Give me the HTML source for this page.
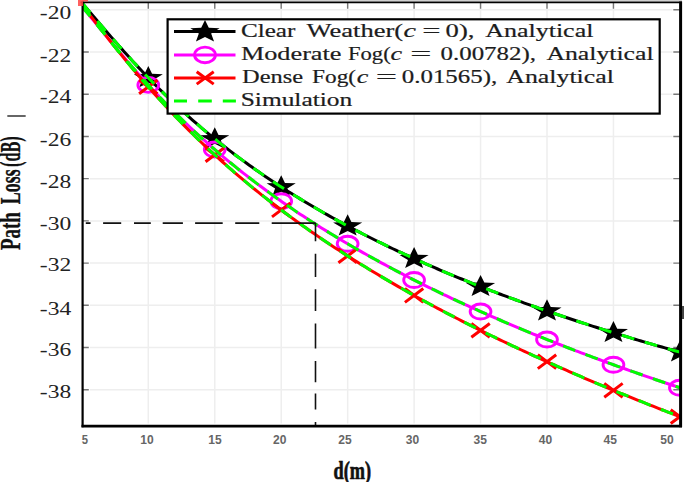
<!DOCTYPE html>
<html><head><meta charset="utf-8"><style>
html,body{margin:0;padding:0;background:#fff;width:685px;height:482px;overflow:hidden}
svg{display:block}
</style></head><body>
<svg width="685" height="482" viewBox="0 0 685 482">
<defs><clipPath id="pc"><rect x="82.5" y="0" width="598" height="482"/></clipPath></defs>
<path d="M148.30,3.2 V423.5 M214.75,3.2 V423.5 M281.20,3.2 V423.5 M347.65,3.2 V423.5 M414.10,3.2 V423.5 M480.55,3.2 V423.5 M547.00,3.2 V423.5 M613.45,3.2 V423.5 M90.0,9.78 H672.5 M90.0,52.00 H672.5 M90.0,94.22 H672.5 M90.0,136.44 H672.5 M90.0,178.66 H672.5 M90.0,220.88 H672.5 M90.0,263.10 H672.5 M90.0,305.32 H672.5 M90.0,347.54 H672.5 M90.0,389.76 H672.5" stroke="#eeeeee" stroke-width="1.5" fill="none"/><path d="M148.30,2.2 V8.8 M214.75,2.2 V8.8 M281.20,2.2 V8.8 M347.65,2.2 V8.8 M414.10,2.2 V8.8 M480.55,2.2 V8.8 M547.00,2.2 V8.8 M613.45,2.2 V8.8 M82.0,9.78 H88.8 M680.5,9.78 H673.3 M82.0,52.00 H88.8 M680.5,52.00 H673.3 M82.0,94.22 H88.8 M680.5,94.22 H673.3 M82.0,136.44 H88.8 M680.5,136.44 H673.3 M82.0,178.66 H88.8 M680.5,178.66 H673.3 M82.0,220.88 H88.8 M680.5,220.88 H673.3 M82.0,263.10 H88.8 M680.5,263.10 H673.3 M82.0,305.32 H88.8 M680.5,305.32 H673.3 M82.0,347.54 H88.8 M680.5,347.54 H673.3 M82.0,389.76 H88.8 M680.5,389.76 H673.3" stroke="#777" stroke-width="1.4" fill="none"/><rect x="82" y="0" width="600" height="1.4" fill="#d0d0d0"/><g clip-path="url(#pc)"><path d="M81.85,2.76 L84.84,6.22 L87.83,9.70 L90.82,13.19 L93.81,16.69 L96.80,20.20 L99.79,23.70 L102.78,27.20 L105.77,30.68 L108.76,34.16 L111.75,37.61 L114.74,41.05 L117.73,44.46 L120.72,47.85 L123.71,51.22 L126.70,54.55 L129.69,57.86 L132.68,61.14 L135.67,64.39 L138.66,67.61 L141.66,70.80 L144.65,73.95 L147.64,77.07 L150.63,80.16 L153.62,83.22 L156.61,86.24 L159.60,89.23 L162.59,92.19 L165.58,95.12 L168.57,98.01 L171.56,100.88 L174.55,103.71 L177.54,106.50 L180.53,109.27 L183.52,112.01 L186.51,114.71 L189.50,117.39 L192.49,120.04 L195.48,122.65 L198.47,125.24 L201.46,127.80 L204.45,130.33 L207.44,132.84 L210.43,135.31 L213.42,137.76 L216.41,140.18 L219.40,142.58 L222.39,144.95 L225.38,147.30 L228.37,149.62 L231.36,151.92 L234.35,154.19 L237.34,156.44 L240.33,158.66 L243.32,160.87 L246.31,163.05 L249.30,165.21 L252.29,167.34 L255.28,169.46 L258.27,171.55 L261.26,173.63 L264.26,175.68 L267.25,177.72 L270.24,179.73 L273.23,181.72 L276.22,183.70 L279.21,185.66 L282.20,187.60 L285.19,189.52 L288.18,191.42 L291.17,193.31 L294.16,195.17 L297.15,197.03 L300.14,198.86 L303.13,200.68 L306.12,202.48 L309.11,204.27 L312.10,206.04 L315.09,207.79 L318.08,209.53 L321.07,211.26 L324.06,212.97 L327.05,214.67 L330.04,216.35 L333.03,218.02 L336.02,219.67 L339.01,221.31 L342.00,222.94 L344.99,224.56 L347.98,226.16 L350.97,227.75 L353.96,229.32 L356.95,230.89 L359.94,232.44 L362.93,233.98 L365.92,235.50 L368.91,237.02 L371.90,238.52 L374.89,240.02 L377.88,241.50 L380.88,242.97 L383.87,244.43 L386.86,245.88 L389.85,247.32 L392.84,248.74 L395.83,250.16 L398.82,251.57 L401.81,252.97 L404.80,254.36 L407.79,255.73 L410.78,257.10 L413.77,258.46 L416.76,259.81 L419.75,261.15 L422.74,262.48 L425.73,263.80 L428.72,265.12 L431.71,266.42 L434.70,267.72 L437.69,269.00 L440.68,270.28 L443.67,271.55 L446.66,272.81 L449.65,274.07 L452.64,275.31 L455.63,276.55 L458.62,277.78 L461.61,279.00 L464.60,280.22 L467.59,281.43 L470.58,282.63 L473.57,283.82 L476.56,285.00 L479.55,286.18 L482.54,287.35 L485.53,288.52 L488.52,289.67 L491.51,290.82 L494.50,291.96 L497.49,293.10 L500.49,294.23 L503.48,295.35 L506.47,296.47 L509.46,297.58 L512.45,298.68 L515.44,299.78 L518.43,300.87 L521.42,301.96 L524.41,303.04 L527.40,304.11 L530.39,305.18 L533.38,306.24 L536.37,307.29 L539.36,308.34 L542.35,309.39 L545.34,310.42 L548.33,311.46 L551.32,312.48 L554.31,313.51 L557.30,314.52 L560.29,315.53 L563.28,316.54 L566.27,317.54 L569.26,318.53 L572.25,319.52 L575.24,320.51 L578.23,321.49 L581.22,322.46 L584.21,323.43 L587.20,324.40 L590.19,325.36 L593.18,326.31 L596.17,327.26 L599.16,328.21 L602.15,329.15 L605.14,330.09 L608.13,331.02 L611.12,331.95 L614.11,332.87 L617.10,333.79 L620.10,334.70 L623.09,335.61 L626.08,336.52 L629.07,337.42 L632.06,338.32 L635.05,339.21 L638.04,340.10 L641.03,340.98 L644.02,341.86 L647.01,342.74 L650.00,343.61 L652.99,344.48 L655.98,345.35 L658.97,346.21 L661.96,347.06 L664.95,347.92 L667.94,348.77 L670.93,349.61 L673.92,350.45 L676.91,351.29 L679.90,352.13" stroke="#000" stroke-width="3" fill="none"/><polygon points="148.30,66.10 152.08,73.80 162.85,74.16 154.41,79.27 157.29,87.19 148.30,82.66 139.31,87.19 142.19,79.27 133.75,74.16 144.52,73.80" fill="#000"/><polygon points="214.75,127.18 218.53,134.88 229.30,135.24 220.86,140.35 223.74,148.27 214.75,143.74 205.76,148.27 208.64,140.35 200.20,135.24 210.97,134.88" fill="#000"/><polygon points="281.20,175.29 284.98,182.99 295.75,183.35 287.31,188.47 290.19,196.39 281.20,191.85 272.21,196.39 275.09,188.47 266.65,183.35 277.42,182.99" fill="#000"/><polygon points="347.65,214.32 351.43,222.02 362.20,222.38 353.76,227.49 356.64,235.41 347.65,230.88 338.66,235.41 341.54,227.49 333.10,222.38 343.87,222.02" fill="#000"/><polygon points="414.10,246.95 417.88,254.65 428.65,255.01 420.21,260.12 423.09,268.04 414.10,263.51 405.11,268.04 407.99,260.12 399.55,255.01 410.32,254.65" fill="#000"/><polygon points="480.55,274.91 484.33,282.61 495.10,282.97 486.66,288.09 489.54,296.01 480.55,291.47 471.56,296.01 474.44,288.09 466.00,282.97 476.77,282.61" fill="#000"/><polygon points="547.00,299.34 550.78,307.04 561.55,307.40 553.11,312.51 555.99,320.43 547.00,315.90 538.01,320.43 540.89,312.51 532.45,307.40 543.22,307.04" fill="#000"/><polygon points="613.45,321.01 617.23,328.70 628.00,329.06 619.56,334.18 622.44,342.10 613.45,337.56 604.46,342.10 607.34,334.18 598.90,329.06 609.67,328.70" fill="#000"/><polygon points="679.90,340.47 683.68,348.16 694.45,348.52 686.01,353.64 688.89,361.56 679.90,357.02 670.91,361.56 673.79,353.64 665.35,348.52 676.12,348.16" fill="#000"/><path d="M81.85,6.32 L84.84,9.94 L87.83,13.58 L90.82,17.24 L93.81,20.90 L96.80,24.56 L99.79,28.23 L102.78,31.88 L105.77,35.53 L108.76,39.16 L111.75,42.78 L114.74,46.38 L117.73,49.95 L120.72,53.50 L123.71,57.03 L126.70,60.52 L129.69,63.99 L132.68,67.43 L135.67,70.84 L138.66,74.22 L141.66,77.57 L144.65,80.88 L147.64,84.17 L150.63,87.42 L153.62,90.63 L156.61,93.82 L159.60,96.97 L162.59,100.09 L165.58,103.18 L168.57,106.23 L171.56,109.25 L174.55,112.24 L177.54,115.20 L180.53,118.13 L183.52,121.03 L186.51,123.89 L189.50,126.73 L192.49,129.54 L195.48,132.31 L198.47,135.06 L201.46,137.78 L204.45,140.47 L207.44,143.14 L210.43,145.77 L213.42,148.38 L216.41,150.97 L219.40,153.52 L222.39,156.05 L225.38,158.56 L228.37,161.04 L231.36,163.50 L234.35,165.93 L237.34,168.34 L240.33,170.73 L243.32,173.09 L246.31,175.43 L249.30,177.75 L252.29,180.05 L255.28,182.33 L258.27,184.58 L261.26,186.82 L264.26,189.03 L267.25,191.22 L270.24,193.40 L273.23,195.55 L276.22,197.69 L279.21,199.81 L282.20,201.91 L285.19,203.99 L288.18,206.05 L291.17,208.10 L294.16,210.13 L297.15,212.14 L300.14,214.13 L303.13,216.11 L306.12,218.08 L309.11,220.02 L312.10,221.95 L315.09,223.87 L318.08,225.77 L321.07,227.66 L324.06,229.53 L327.05,231.38 L330.04,233.23 L333.03,235.06 L336.02,236.87 L339.01,238.67 L342.00,240.46 L344.99,242.23 L347.98,244.00 L350.97,245.75 L353.96,247.48 L356.95,249.21 L359.94,250.92 L362.93,252.62 L365.92,254.31 L368.91,255.98 L371.90,257.65 L374.89,259.30 L377.88,260.94 L380.88,262.57 L383.87,264.19 L386.86,265.80 L389.85,267.40 L392.84,268.99 L395.83,270.57 L398.82,272.14 L401.81,273.70 L404.80,275.24 L407.79,276.78 L410.78,278.31 L413.77,279.83 L416.76,281.34 L419.75,282.84 L422.74,284.33 L425.73,285.81 L428.72,287.29 L431.71,288.75 L434.70,290.21 L437.69,291.66 L440.68,293.09 L443.67,294.53 L446.66,295.95 L449.65,297.36 L452.64,298.77 L455.63,300.17 L458.62,301.56 L461.61,302.94 L464.60,304.31 L467.59,305.68 L470.58,307.04 L473.57,308.40 L476.56,309.74 L479.55,311.08 L482.54,312.41 L485.53,313.73 L488.52,315.05 L491.51,316.36 L494.50,317.66 L497.49,318.96 L500.49,320.25 L503.48,321.53 L506.47,322.81 L509.46,324.08 L512.45,325.35 L515.44,326.60 L518.43,327.85 L521.42,329.10 L524.41,330.34 L527.40,331.57 L530.39,332.80 L533.38,334.02 L536.37,335.24 L539.36,336.45 L542.35,337.65 L545.34,338.85 L548.33,340.04 L551.32,341.23 L554.31,342.41 L557.30,343.59 L560.29,344.76 L563.28,345.93 L566.27,347.09 L569.26,348.24 L572.25,349.39 L575.24,350.54 L578.23,351.68 L581.22,352.81 L584.21,353.94 L587.20,355.07 L590.19,356.19 L593.18,357.31 L596.17,358.42 L599.16,359.52 L602.15,360.63 L605.14,361.72 L608.13,362.81 L611.12,363.90 L614.11,364.99 L617.10,366.07 L620.10,367.14 L623.09,368.21 L626.08,369.28 L629.07,370.34 L632.06,371.40 L635.05,372.45 L638.04,373.50 L641.03,374.54 L644.02,375.58 L647.01,376.62 L650.00,377.65 L652.99,378.68 L655.98,379.71 L658.97,380.73 L661.96,381.75 L664.95,382.76 L667.94,383.77 L670.93,384.77 L673.92,385.78 L676.91,386.78 L679.90,387.77" stroke="#f0f" stroke-width="3" fill="none"/><ellipse cx="148.30" cy="84.89" rx="10.4" ry="7.5" fill="none" stroke="#f0f" stroke-width="2.9"/><ellipse cx="214.75" cy="149.53" rx="10.4" ry="7.5" fill="none" stroke="#f0f" stroke-width="2.9"/><ellipse cx="281.20" cy="201.21" rx="10.4" ry="7.5" fill="none" stroke="#f0f" stroke-width="2.9"/><ellipse cx="347.65" cy="243.80" rx="10.4" ry="7.5" fill="none" stroke="#f0f" stroke-width="2.9"/><ellipse cx="414.10" cy="280.00" rx="10.4" ry="7.5" fill="none" stroke="#f0f" stroke-width="2.9"/><ellipse cx="480.55" cy="311.52" rx="10.4" ry="7.5" fill="none" stroke="#f0f" stroke-width="2.9"/><ellipse cx="547.00" cy="339.51" rx="10.4" ry="7.5" fill="none" stroke="#f0f" stroke-width="2.9"/><ellipse cx="613.45" cy="364.75" rx="10.4" ry="7.5" fill="none" stroke="#f0f" stroke-width="2.9"/><ellipse cx="679.90" cy="387.77" rx="10.4" ry="7.5" fill="none" stroke="#f0f" stroke-width="2.9"/><path d="M81.85,4.99 L84.84,8.76 L87.83,12.55 L90.82,16.36 L93.81,20.17 L96.80,23.99 L99.79,27.81 L102.78,31.61 L105.77,35.41 L108.76,39.20 L111.75,42.96 L114.74,46.71 L117.73,50.44 L120.72,54.14 L123.71,57.81 L126.70,61.46 L129.69,65.08 L132.68,68.67 L135.67,72.24 L138.66,75.76 L141.66,79.26 L144.65,82.73 L147.64,86.16 L150.63,89.56 L153.62,92.93 L156.61,96.27 L159.60,99.57 L162.59,102.84 L165.58,106.08 L168.57,109.28 L171.56,112.46 L174.55,115.60 L177.54,118.71 L180.53,121.79 L183.52,124.84 L186.51,127.85 L189.50,130.84 L192.49,133.80 L195.48,136.73 L198.47,139.63 L201.46,142.50 L204.45,145.34 L207.44,148.16 L210.43,150.94 L213.42,153.71 L216.41,156.44 L219.40,159.15 L222.39,161.83 L225.38,164.49 L228.37,167.12 L231.36,169.73 L234.35,172.31 L237.34,174.87 L240.33,177.41 L243.32,179.93 L246.31,182.42 L249.30,184.89 L252.29,187.34 L255.28,189.76 L258.27,192.17 L261.26,194.56 L264.26,196.92 L267.25,199.27 L270.24,201.59 L273.23,203.90 L276.22,206.19 L279.21,208.46 L282.20,210.71 L285.19,212.94 L288.18,215.15 L291.17,217.35 L294.16,219.53 L297.15,221.69 L300.14,223.84 L303.13,225.97 L306.12,228.08 L309.11,230.18 L312.10,232.26 L315.09,234.33 L318.08,236.38 L321.07,238.42 L324.06,240.44 L327.05,242.45 L330.04,244.44 L333.03,246.42 L336.02,248.39 L339.01,250.34 L342.00,252.28 L344.99,254.21 L347.98,256.12 L350.97,258.02 L353.96,259.91 L356.95,261.78 L359.94,263.65 L362.93,265.50 L365.92,267.34 L368.91,269.16 L371.90,270.98 L374.89,272.78 L377.88,274.58 L380.88,276.36 L383.87,278.13 L386.86,279.89 L389.85,281.64 L392.84,283.38 L395.83,285.11 L398.82,286.83 L401.81,288.54 L404.80,290.24 L407.79,291.93 L410.78,293.61 L413.77,295.28 L416.76,296.94 L419.75,298.59 L422.74,300.23 L425.73,301.87 L428.72,303.49 L431.71,305.11 L434.70,306.71 L437.69,308.31 L440.68,309.90 L443.67,311.49 L446.66,313.06 L449.65,314.62 L452.64,316.18 L455.63,317.73 L458.62,319.27 L461.61,320.81 L464.60,322.33 L467.59,323.85 L470.58,325.36 L473.57,326.87 L476.56,328.36 L479.55,329.85 L482.54,331.33 L485.53,332.81 L488.52,334.28 L491.51,335.74 L494.50,337.19 L497.49,338.64 L500.49,340.08 L503.48,341.52 L506.47,342.94 L509.46,344.37 L512.45,345.78 L515.44,347.19 L518.43,348.59 L521.42,349.99 L524.41,351.38 L527.40,352.76 L530.39,354.14 L533.38,355.52 L536.37,356.88 L539.36,358.24 L542.35,359.60 L545.34,360.95 L548.33,362.29 L551.32,363.63 L554.31,364.96 L557.30,366.29 L560.29,367.61 L563.28,368.93 L566.27,370.24 L569.26,371.55 L572.25,372.85 L575.24,374.15 L578.23,375.44 L581.22,376.73 L584.21,378.01 L587.20,379.28 L590.19,380.56 L593.18,381.82 L596.17,383.08 L599.16,384.34 L602.15,385.60 L605.14,386.84 L608.13,388.09 L611.12,389.33 L614.11,390.56 L617.10,391.79 L620.10,393.02 L623.09,394.24 L626.08,395.46 L629.07,396.67 L632.06,397.88 L635.05,399.08 L638.04,400.28 L641.03,401.48 L644.02,402.67 L647.01,403.86 L650.00,405.04 L652.99,406.22 L655.98,407.40 L658.97,408.57 L661.96,409.74 L664.95,410.90 L667.94,412.06 L670.93,413.22 L673.92,414.37 L676.91,415.52 L679.90,416.67" stroke="#f00" stroke-width="3" fill="none"/><path d="M139.10,80.02 L157.50,93.82 M139.10,93.82 L157.50,80.02" stroke="#f00" stroke-width="3" fill="none"/><path d="M205.55,148.02 L223.95,161.82 M205.55,161.82 L223.95,148.02" stroke="#f00" stroke-width="3" fill="none"/><path d="M272.00,203.06 L290.40,216.86 M272.00,216.86 L290.40,203.06" stroke="#f00" stroke-width="3" fill="none"/><path d="M338.45,249.01 L356.85,262.81 M338.45,262.81 L356.85,249.01" stroke="#f00" stroke-width="3" fill="none"/><path d="M404.90,288.56 L423.30,302.36 M404.90,302.36 L423.30,288.56" stroke="#f00" stroke-width="3" fill="none"/><path d="M471.35,323.45 L489.75,337.25 M471.35,337.25 L489.75,323.45" stroke="#f00" stroke-width="3" fill="none"/><path d="M537.80,354.80 L556.20,368.60 M537.80,368.60 L556.20,354.80" stroke="#f00" stroke-width="3" fill="none"/><path d="M604.25,383.39 L622.65,397.19 M604.25,397.19 L622.65,383.39" stroke="#f00" stroke-width="3" fill="none"/><path d="M670.70,409.77 L689.10,423.57 M670.70,423.57 L689.10,409.77" stroke="#f00" stroke-width="3" fill="none"/><path d="M81.85,2.76 L84.84,6.22 L87.83,9.70 L90.82,13.19 L93.81,16.69 L96.80,20.20 L99.79,23.70 L102.78,27.20 L105.77,30.68 L108.76,34.16 L111.75,37.61 L114.74,41.05 L117.73,44.46 L120.72,47.85 L123.71,51.22 L126.70,54.55 L129.69,57.86 L132.68,61.14 L135.67,64.39 L138.66,67.61 L141.66,70.80 L144.65,73.95 L147.64,77.07 L150.63,80.16 L153.62,83.22 L156.61,86.24 L159.60,89.23 L162.59,92.19 L165.58,95.12 L168.57,98.01 L171.56,100.88 L174.55,103.71 L177.54,106.50 L180.53,109.27 L183.52,112.01 L186.51,114.71 L189.50,117.39 L192.49,120.04 L195.48,122.65 L198.47,125.24 L201.46,127.80 L204.45,130.33 L207.44,132.84 L210.43,135.31 L213.42,137.76 L216.41,140.18 L219.40,142.58 L222.39,144.95 L225.38,147.30 L228.37,149.62 L231.36,151.92 L234.35,154.19 L237.34,156.44 L240.33,158.66 L243.32,160.87 L246.31,163.05 L249.30,165.21 L252.29,167.34 L255.28,169.46 L258.27,171.55 L261.26,173.63 L264.26,175.68 L267.25,177.72 L270.24,179.73 L273.23,181.72 L276.22,183.70 L279.21,185.66 L282.20,187.60 L285.19,189.52 L288.18,191.42 L291.17,193.31 L294.16,195.17 L297.15,197.03 L300.14,198.86 L303.13,200.68 L306.12,202.48 L309.11,204.27 L312.10,206.04 L315.09,207.79 L318.08,209.53 L321.07,211.26 L324.06,212.97 L327.05,214.67 L330.04,216.35 L333.03,218.02 L336.02,219.67 L339.01,221.31 L342.00,222.94 L344.99,224.56 L347.98,226.16 L350.97,227.75 L353.96,229.32 L356.95,230.89 L359.94,232.44 L362.93,233.98 L365.92,235.50 L368.91,237.02 L371.90,238.52 L374.89,240.02 L377.88,241.50 L380.88,242.97 L383.87,244.43 L386.86,245.88 L389.85,247.32 L392.84,248.74 L395.83,250.16 L398.82,251.57 L401.81,252.97 L404.80,254.36 L407.79,255.73 L410.78,257.10 L413.77,258.46 L416.76,259.81 L419.75,261.15 L422.74,262.48 L425.73,263.80 L428.72,265.12 L431.71,266.42 L434.70,267.72 L437.69,269.00 L440.68,270.28 L443.67,271.55 L446.66,272.81 L449.65,274.07 L452.64,275.31 L455.63,276.55 L458.62,277.78 L461.61,279.00 L464.60,280.22 L467.59,281.43 L470.58,282.63 L473.57,283.82 L476.56,285.00 L479.55,286.18 L482.54,287.35 L485.53,288.52 L488.52,289.67 L491.51,290.82 L494.50,291.96 L497.49,293.10 L500.49,294.23 L503.48,295.35 L506.47,296.47 L509.46,297.58 L512.45,298.68 L515.44,299.78 L518.43,300.87 L521.42,301.96 L524.41,303.04 L527.40,304.11 L530.39,305.18 L533.38,306.24 L536.37,307.29 L539.36,308.34 L542.35,309.39 L545.34,310.42 L548.33,311.46 L551.32,312.48 L554.31,313.51 L557.30,314.52 L560.29,315.53 L563.28,316.54 L566.27,317.54 L569.26,318.53 L572.25,319.52 L575.24,320.51 L578.23,321.49 L581.22,322.46 L584.21,323.43 L587.20,324.40 L590.19,325.36 L593.18,326.31 L596.17,327.26 L599.16,328.21 L602.15,329.15 L605.14,330.09 L608.13,331.02 L611.12,331.95 L614.11,332.87 L617.10,333.79 L620.10,334.70 L623.09,335.61 L626.08,336.52 L629.07,337.42 L632.06,338.32 L635.05,339.21 L638.04,340.10 L641.03,340.98 L644.02,341.86 L647.01,342.74 L650.00,343.61 L652.99,344.48 L655.98,345.35 L658.97,346.21 L661.96,347.06 L664.95,347.92 L667.94,348.77 L670.93,349.61 L673.92,350.45 L676.91,351.29 L679.90,352.13" stroke="#00ff00" stroke-width="3" fill="none" stroke-dasharray="13 10.9"/><path d="M81.85,6.32 L84.84,9.94 L87.83,13.58 L90.82,17.24 L93.81,20.90 L96.80,24.56 L99.79,28.23 L102.78,31.88 L105.77,35.53 L108.76,39.16 L111.75,42.78 L114.74,46.38 L117.73,49.95 L120.72,53.50 L123.71,57.03 L126.70,60.52 L129.69,63.99 L132.68,67.43 L135.67,70.84 L138.66,74.22 L141.66,77.57 L144.65,80.88 L147.64,84.17 L150.63,87.42 L153.62,90.63 L156.61,93.82 L159.60,96.97 L162.59,100.09 L165.58,103.18 L168.57,106.23 L171.56,109.25 L174.55,112.24 L177.54,115.20 L180.53,118.13 L183.52,121.03 L186.51,123.89 L189.50,126.73 L192.49,129.54 L195.48,132.31 L198.47,135.06 L201.46,137.78 L204.45,140.47 L207.44,143.14 L210.43,145.77 L213.42,148.38 L216.41,150.97 L219.40,153.52 L222.39,156.05 L225.38,158.56 L228.37,161.04 L231.36,163.50 L234.35,165.93 L237.34,168.34 L240.33,170.73 L243.32,173.09 L246.31,175.43 L249.30,177.75 L252.29,180.05 L255.28,182.33 L258.27,184.58 L261.26,186.82 L264.26,189.03 L267.25,191.22 L270.24,193.40 L273.23,195.55 L276.22,197.69 L279.21,199.81 L282.20,201.91 L285.19,203.99 L288.18,206.05 L291.17,208.10 L294.16,210.13 L297.15,212.14 L300.14,214.13 L303.13,216.11 L306.12,218.08 L309.11,220.02 L312.10,221.95 L315.09,223.87 L318.08,225.77 L321.07,227.66 L324.06,229.53 L327.05,231.38 L330.04,233.23 L333.03,235.06 L336.02,236.87 L339.01,238.67 L342.00,240.46 L344.99,242.23 L347.98,244.00 L350.97,245.75 L353.96,247.48 L356.95,249.21 L359.94,250.92 L362.93,252.62 L365.92,254.31 L368.91,255.98 L371.90,257.65 L374.89,259.30 L377.88,260.94 L380.88,262.57 L383.87,264.19 L386.86,265.80 L389.85,267.40 L392.84,268.99 L395.83,270.57 L398.82,272.14 L401.81,273.70 L404.80,275.24 L407.79,276.78 L410.78,278.31 L413.77,279.83 L416.76,281.34 L419.75,282.84 L422.74,284.33 L425.73,285.81 L428.72,287.29 L431.71,288.75 L434.70,290.21 L437.69,291.66 L440.68,293.09 L443.67,294.53 L446.66,295.95 L449.65,297.36 L452.64,298.77 L455.63,300.17 L458.62,301.56 L461.61,302.94 L464.60,304.31 L467.59,305.68 L470.58,307.04 L473.57,308.40 L476.56,309.74 L479.55,311.08 L482.54,312.41 L485.53,313.73 L488.52,315.05 L491.51,316.36 L494.50,317.66 L497.49,318.96 L500.49,320.25 L503.48,321.53 L506.47,322.81 L509.46,324.08 L512.45,325.35 L515.44,326.60 L518.43,327.85 L521.42,329.10 L524.41,330.34 L527.40,331.57 L530.39,332.80 L533.38,334.02 L536.37,335.24 L539.36,336.45 L542.35,337.65 L545.34,338.85 L548.33,340.04 L551.32,341.23 L554.31,342.41 L557.30,343.59 L560.29,344.76 L563.28,345.93 L566.27,347.09 L569.26,348.24 L572.25,349.39 L575.24,350.54 L578.23,351.68 L581.22,352.81 L584.21,353.94 L587.20,355.07 L590.19,356.19 L593.18,357.31 L596.17,358.42 L599.16,359.52 L602.15,360.63 L605.14,361.72 L608.13,362.81 L611.12,363.90 L614.11,364.99 L617.10,366.07 L620.10,367.14 L623.09,368.21 L626.08,369.28 L629.07,370.34 L632.06,371.40 L635.05,372.45 L638.04,373.50 L641.03,374.54 L644.02,375.58 L647.01,376.62 L650.00,377.65 L652.99,378.68 L655.98,379.71 L658.97,380.73 L661.96,381.75 L664.95,382.76 L667.94,383.77 L670.93,384.77 L673.92,385.78 L676.91,386.78 L679.90,387.77" stroke="#00ff00" stroke-width="3" fill="none" stroke-dasharray="13 10.9"/><path d="M81.85,4.99 L84.84,8.76 L87.83,12.55 L90.82,16.36 L93.81,20.17 L96.80,23.99 L99.79,27.81 L102.78,31.61 L105.77,35.41 L108.76,39.20 L111.75,42.96 L114.74,46.71 L117.73,50.44 L120.72,54.14 L123.71,57.81 L126.70,61.46 L129.69,65.08 L132.68,68.67 L135.67,72.24 L138.66,75.76 L141.66,79.26 L144.65,82.73 L147.64,86.16 L150.63,89.56 L153.62,92.93 L156.61,96.27 L159.60,99.57 L162.59,102.84 L165.58,106.08 L168.57,109.28 L171.56,112.46 L174.55,115.60 L177.54,118.71 L180.53,121.79 L183.52,124.84 L186.51,127.85 L189.50,130.84 L192.49,133.80 L195.48,136.73 L198.47,139.63 L201.46,142.50 L204.45,145.34 L207.44,148.16 L210.43,150.94 L213.42,153.71 L216.41,156.44 L219.40,159.15 L222.39,161.83 L225.38,164.49 L228.37,167.12 L231.36,169.73 L234.35,172.31 L237.34,174.87 L240.33,177.41 L243.32,179.93 L246.31,182.42 L249.30,184.89 L252.29,187.34 L255.28,189.76 L258.27,192.17 L261.26,194.56 L264.26,196.92 L267.25,199.27 L270.24,201.59 L273.23,203.90 L276.22,206.19 L279.21,208.46 L282.20,210.71 L285.19,212.94 L288.18,215.15 L291.17,217.35 L294.16,219.53 L297.15,221.69 L300.14,223.84 L303.13,225.97 L306.12,228.08 L309.11,230.18 L312.10,232.26 L315.09,234.33 L318.08,236.38 L321.07,238.42 L324.06,240.44 L327.05,242.45 L330.04,244.44 L333.03,246.42 L336.02,248.39 L339.01,250.34 L342.00,252.28 L344.99,254.21 L347.98,256.12 L350.97,258.02 L353.96,259.91 L356.95,261.78 L359.94,263.65 L362.93,265.50 L365.92,267.34 L368.91,269.16 L371.90,270.98 L374.89,272.78 L377.88,274.58 L380.88,276.36 L383.87,278.13 L386.86,279.89 L389.85,281.64 L392.84,283.38 L395.83,285.11 L398.82,286.83 L401.81,288.54 L404.80,290.24 L407.79,291.93 L410.78,293.61 L413.77,295.28 L416.76,296.94 L419.75,298.59 L422.74,300.23 L425.73,301.87 L428.72,303.49 L431.71,305.11 L434.70,306.71 L437.69,308.31 L440.68,309.90 L443.67,311.49 L446.66,313.06 L449.65,314.62 L452.64,316.18 L455.63,317.73 L458.62,319.27 L461.61,320.81 L464.60,322.33 L467.59,323.85 L470.58,325.36 L473.57,326.87 L476.56,328.36 L479.55,329.85 L482.54,331.33 L485.53,332.81 L488.52,334.28 L491.51,335.74 L494.50,337.19 L497.49,338.64 L500.49,340.08 L503.48,341.52 L506.47,342.94 L509.46,344.37 L512.45,345.78 L515.44,347.19 L518.43,348.59 L521.42,349.99 L524.41,351.38 L527.40,352.76 L530.39,354.14 L533.38,355.52 L536.37,356.88 L539.36,358.24 L542.35,359.60 L545.34,360.95 L548.33,362.29 L551.32,363.63 L554.31,364.96 L557.30,366.29 L560.29,367.61 L563.28,368.93 L566.27,370.24 L569.26,371.55 L572.25,372.85 L575.24,374.15 L578.23,375.44 L581.22,376.73 L584.21,378.01 L587.20,379.28 L590.19,380.56 L593.18,381.82 L596.17,383.08 L599.16,384.34 L602.15,385.60 L605.14,386.84 L608.13,388.09 L611.12,389.33 L614.11,390.56 L617.10,391.79 L620.10,393.02 L623.09,394.24 L626.08,395.46 L629.07,396.67 L632.06,397.88 L635.05,399.08 L638.04,400.28 L641.03,401.48 L644.02,402.67 L647.01,403.86 L650.00,405.04 L652.99,406.22 L655.98,407.40 L658.97,408.57 L661.96,409.74 L664.95,410.90 L667.94,412.06 L670.93,413.22 L673.92,414.37 L676.91,415.52 L679.90,416.67" stroke="#00ff00" stroke-width="3" fill="none" stroke-dasharray="13 10.9"/></g><path d="M85.8,223.1 H90.5 M103.1,223.1 H121.2 M134,223.1 H150.8 M162.7,223.1 H182.9 M195.1,223.1 H222.7 M235.2,223.1 H259.3 M271.7,223.1 H315.5 M315.5,223 V241.3 M315.5,253.8 V277.1 M315.5,289.2 V310.9 M315.5,323.6 V348.6 M315.5,361 V382.2 M315.5,393.4 V409.6 M315.5,422 V425.5" stroke="#111" stroke-width="1.6" fill="none"/><path d="M82.6,1.4 V427.3" stroke="#000" stroke-width="2.2"/><path d="M80.5,2.4 H682" stroke="#000" stroke-width="1.9"/><path d="M680.6,1.4 V427.3" stroke="#000" stroke-width="3"/><path d="M81.5,426.1 H682" stroke="#000" stroke-width="2.6"/><path d="M78,0 H88 V1.5 H83 V6 H78 Z" fill="#f44" opacity="0.85"/><rect x="167.6" y="19.3" width="492.1" height="94.3" fill="#fff" stroke="#000" stroke-width="2.2"/><path d="M174,31.6 H235.5" stroke="#000" stroke-width="3"/><polygon points="205.00,19.90 208.80,27.82 219.65,28.19 211.15,33.46 214.05,41.61 205.00,36.94 195.95,41.61 198.85,33.46 190.35,28.19 201.20,27.82" fill="#000"/><path d="M174,54.9 H235.5" stroke="#f0f" stroke-width="3"/><ellipse cx="205.00" cy="54.90" rx="10.4" ry="7.8" fill="none" stroke="#f0f" stroke-width="2.9"/><path d="M174,77.9 H235.5" stroke="#f00" stroke-width="3"/><path d="M196.70,71.70 L213.70,84.10 M196.70,84.10 L213.70,71.70" stroke="#f00" stroke-width="3" fill="none"/><path d="M174,101.1 H187 M198.2,101.1 H211.8 M222.8,101.1 H235.9" stroke="#00ff00" stroke-width="3"/>
<text x="240.9" y="37.0" font-family="&apos;Liberation Serif&apos;, serif" font-size="19" font-weight="normal" font-style="normal" fill="#1c1c1c" stroke="#1c1c1c" stroke-width="0.2" textLength="54.5" lengthAdjust="spacingAndGlyphs" >Clear</text><text x="306.6" y="37.0" font-family="&apos;Liberation Serif&apos;, serif" font-size="19" font-weight="normal" font-style="normal" fill="#1c1c1c" stroke="#1c1c1c" stroke-width="0.2" textLength="96.6" lengthAdjust="spacingAndGlyphs" >Weather(</text><text x="403.6" y="37.0" font-family="&apos;Liberation Serif&apos;, serif" font-size="19" font-weight="normal" font-style="italic" fill="#1c1c1c" stroke="#1c1c1c" stroke-width="0.2" textLength="12.5" lengthAdjust="spacingAndGlyphs" >c</text><text x="422.3" y="37.0" font-family="&apos;Liberation Serif&apos;, serif" font-size="19" font-weight="normal" font-style="normal" fill="#1c1c1c" stroke="#1c1c1c" stroke-width="0.2" textLength="18.3" lengthAdjust="spacingAndGlyphs" >=</text><text x="445.6" y="37.0" font-family="&apos;Liberation Serif&apos;, serif" font-size="19" font-weight="normal" font-style="normal" fill="#1c1c1c" stroke="#1c1c1c" stroke-width="0.2" textLength="28.8" lengthAdjust="spacingAndGlyphs" >0),</text><text x="485.2" y="37.0" font-family="&apos;Liberation Serif&apos;, serif" font-size="19" font-weight="normal" font-style="normal" fill="#1c1c1c" stroke="#1c1c1c" stroke-width="0.2" textLength="108.2" lengthAdjust="spacingAndGlyphs" >Analytical</text><text x="240.9" y="59.7" font-family="&apos;Liberation Serif&apos;, serif" font-size="19" font-weight="normal" font-style="normal" fill="#1c1c1c" stroke="#1c1c1c" stroke-width="0.2" textLength="100.6" lengthAdjust="spacingAndGlyphs" >Moderate</text><text x="348.0" y="59.7" font-family="&apos;Liberation Serif&apos;, serif" font-size="19" font-weight="normal" font-style="normal" fill="#1c1c1c" stroke="#1c1c1c" stroke-width="0.2" textLength="42.7" lengthAdjust="spacingAndGlyphs" >Fog(</text><text x="390.6" y="59.7" font-family="&apos;Liberation Serif&apos;, serif" font-size="19" font-weight="normal" font-style="italic" fill="#1c1c1c" stroke="#1c1c1c" stroke-width="0.2" textLength="11.6" lengthAdjust="spacingAndGlyphs" >c</text><text x="410.2" y="59.7" font-family="&apos;Liberation Serif&apos;, serif" font-size="19" font-weight="normal" font-style="normal" fill="#1c1c1c" stroke="#1c1c1c" stroke-width="0.2" textLength="21.2" lengthAdjust="spacingAndGlyphs" >=</text><text x="440.6" y="59.7" font-family="&apos;Liberation Serif&apos;, serif" font-size="19" font-weight="normal" font-style="normal" fill="#1c1c1c" stroke="#1c1c1c" stroke-width="0.2" textLength="95.3" lengthAdjust="spacingAndGlyphs" >0.00782),</text><text x="546.4" y="59.7" font-family="&apos;Liberation Serif&apos;, serif" font-size="19" font-weight="normal" font-style="normal" fill="#1c1c1c" stroke="#1c1c1c" stroke-width="0.2" textLength="107.2" lengthAdjust="spacingAndGlyphs" >Analytical</text><text x="242.0" y="82.9" font-family="&apos;Liberation Serif&apos;, serif" font-size="19" font-weight="normal" font-style="normal" fill="#1c1c1c" stroke="#1c1c1c" stroke-width="0.2" textLength="61.0" lengthAdjust="spacingAndGlyphs" >Dense</text><text x="312.1" y="82.9" font-family="&apos;Liberation Serif&apos;, serif" font-size="19" font-weight="normal" font-style="normal" fill="#1c1c1c" stroke="#1c1c1c" stroke-width="0.2" textLength="44.0" lengthAdjust="spacingAndGlyphs" >Fog(</text><text x="356.8" y="82.9" font-family="&apos;Liberation Serif&apos;, serif" font-size="19" font-weight="normal" font-style="italic" fill="#1c1c1c" stroke="#1c1c1c" stroke-width="0.2" textLength="11.6" lengthAdjust="spacingAndGlyphs" >c</text><text x="375.7" y="82.9" font-family="&apos;Liberation Serif&apos;, serif" font-size="19" font-weight="normal" font-style="normal" fill="#1c1c1c" stroke="#1c1c1c" stroke-width="0.2" textLength="21.3" lengthAdjust="spacingAndGlyphs" >=</text><text x="401.8" y="82.9" font-family="&apos;Liberation Serif&apos;, serif" font-size="19" font-weight="normal" font-style="normal" fill="#1c1c1c" stroke="#1c1c1c" stroke-width="0.2" textLength="95.4" lengthAdjust="spacingAndGlyphs" >0.01565),</text><text x="506.3" y="82.9" font-family="&apos;Liberation Serif&apos;, serif" font-size="19" font-weight="normal" font-style="normal" fill="#1c1c1c" stroke="#1c1c1c" stroke-width="0.2" textLength="107.6" lengthAdjust="spacingAndGlyphs" >Analytical</text><text x="240.7" y="105.7" font-family="&apos;Liberation Serif&apos;, serif" font-size="19" font-weight="normal" font-style="normal" fill="#1c1c1c" stroke="#1c1c1c" stroke-width="0.2" textLength="111.6" lengthAdjust="spacingAndGlyphs" >Simulation</text><text x="39.8" y="19.0" font-family="&apos;Liberation Serif&apos;, serif" font-size="19.5" font-weight="normal" font-style="normal" fill="#222" textLength="31.4" lengthAdjust="spacingAndGlyphs" >-20</text><text x="39.8" y="61.5" font-family="&apos;Liberation Serif&apos;, serif" font-size="19.5" font-weight="normal" font-style="normal" fill="#222" textLength="31.4" lengthAdjust="spacingAndGlyphs" >-22</text><text x="39.8" y="102.9" font-family="&apos;Liberation Serif&apos;, serif" font-size="19.5" font-weight="normal" font-style="normal" fill="#222" textLength="31.4" lengthAdjust="spacingAndGlyphs" >-24</text><text x="39.8" y="145.6" font-family="&apos;Liberation Serif&apos;, serif" font-size="19.5" font-weight="normal" font-style="normal" fill="#222" textLength="31.4" lengthAdjust="spacingAndGlyphs" >-26</text><text x="39.8" y="188.1" font-family="&apos;Liberation Serif&apos;, serif" font-size="19.5" font-weight="normal" font-style="normal" fill="#222" textLength="31.4" lengthAdjust="spacingAndGlyphs" >-28</text><text x="39.8" y="230.3" font-family="&apos;Liberation Serif&apos;, serif" font-size="19.5" font-weight="normal" font-style="normal" fill="#222" textLength="31.4" lengthAdjust="spacingAndGlyphs" >-30</text><text x="39.8" y="271.1" font-family="&apos;Liberation Serif&apos;, serif" font-size="19.5" font-weight="normal" font-style="normal" fill="#222" textLength="31.4" lengthAdjust="spacingAndGlyphs" >-32</text><text x="39.8" y="314.9" font-family="&apos;Liberation Serif&apos;, serif" font-size="19.5" font-weight="normal" font-style="normal" fill="#222" textLength="31.4" lengthAdjust="spacingAndGlyphs" >-34</text><text x="39.8" y="355.9" font-family="&apos;Liberation Serif&apos;, serif" font-size="19.5" font-weight="normal" font-style="normal" fill="#222" textLength="31.4" lengthAdjust="spacingAndGlyphs" >-36</text><text x="39.8" y="398.2" font-family="&apos;Liberation Serif&apos;, serif" font-size="19.5" font-weight="normal" font-style="normal" fill="#222" textLength="31.4" lengthAdjust="spacingAndGlyphs" >-38</text><text x="81.8" y="443.6" font-family="&apos;Liberation Sans&apos;, sans-serif" font-size="12" font-weight="bold" font-style="normal" fill="#666" textLength="6.3" lengthAdjust="spacingAndGlyphs" >5</text><text x="140.2" y="443.6" font-family="&apos;Liberation Sans&apos;, sans-serif" font-size="12" font-weight="bold" font-style="normal" fill="#666" textLength="13.4" lengthAdjust="spacingAndGlyphs" >10</text><text x="208.2" y="443.6" font-family="&apos;Liberation Sans&apos;, sans-serif" font-size="12" font-weight="bold" font-style="normal" fill="#666" textLength="13.4" lengthAdjust="spacingAndGlyphs" >15</text><text x="273.0" y="443.6" font-family="&apos;Liberation Sans&apos;, sans-serif" font-size="12" font-weight="bold" font-style="normal" fill="#666" textLength="13.4" lengthAdjust="spacingAndGlyphs" >20</text><text x="338.2" y="443.6" font-family="&apos;Liberation Sans&apos;, sans-serif" font-size="12" font-weight="bold" font-style="normal" fill="#666" textLength="13.4" lengthAdjust="spacingAndGlyphs" >25</text><text x="405.8" y="443.6" font-family="&apos;Liberation Sans&apos;, sans-serif" font-size="12" font-weight="bold" font-style="normal" fill="#666" textLength="13.4" lengthAdjust="spacingAndGlyphs" >30</text><text x="473.5" y="443.6" font-family="&apos;Liberation Sans&apos;, sans-serif" font-size="12" font-weight="bold" font-style="normal" fill="#666" textLength="13.4" lengthAdjust="spacingAndGlyphs" >35</text><text x="538.7" y="443.6" font-family="&apos;Liberation Sans&apos;, sans-serif" font-size="12" font-weight="bold" font-style="normal" fill="#666" textLength="13.4" lengthAdjust="spacingAndGlyphs" >40</text><text x="603.5" y="443.6" font-family="&apos;Liberation Sans&apos;, sans-serif" font-size="12" font-weight="bold" font-style="normal" fill="#666" textLength="13.4" lengthAdjust="spacingAndGlyphs" >45</text><text x="660.2" y="443.6" font-family="&apos;Liberation Sans&apos;, sans-serif" font-size="12" font-weight="bold" font-style="normal" fill="#666" textLength="13.4" lengthAdjust="spacingAndGlyphs" >50</text><text x="333.5" y="479.1" font-family="&apos;Liberation Serif&apos;, serif" font-size="25.5" font-weight="bold" font-style="normal" fill="#111" stroke="#111" stroke-width="0.7" textLength="37.5" lengthAdjust="spacingAndGlyphs" >d(m)</text><text x="-0.3" y="0.0" font-family="&apos;Liberation Serif&apos;, serif" font-size="29" font-weight="bold" font-style="normal" fill="#111" stroke="#111" stroke-width="0.3" textLength="37.9" lengthAdjust="spacingAndGlyphs" transform="translate(20.2,249.8) rotate(-90)">Path</text><text x="45.6" y="0.0" font-family="&apos;Liberation Serif&apos;, serif" font-size="29" font-weight="bold" font-style="normal" fill="#111" stroke="#111" stroke-width="0.3" textLength="34.8" lengthAdjust="spacingAndGlyphs" transform="translate(20.2,249.8) rotate(-90)">Loss</text><text x="82.8" y="0.0" font-family="&apos;Liberation Serif&apos;, serif" font-size="29" font-weight="bold" font-style="normal" fill="#111" stroke="#111" stroke-width="0.3" textLength="30.7" lengthAdjust="spacingAndGlyphs" transform="translate(20.2,249.8) rotate(-90)">(dB)</text><path d="M8,116 H25" stroke="#666" stroke-width="1.8" stroke-linecap="round" fill="none"/><rect x="682" y="306" width="2" height="13" fill="#444"/></svg>
</body></html>
